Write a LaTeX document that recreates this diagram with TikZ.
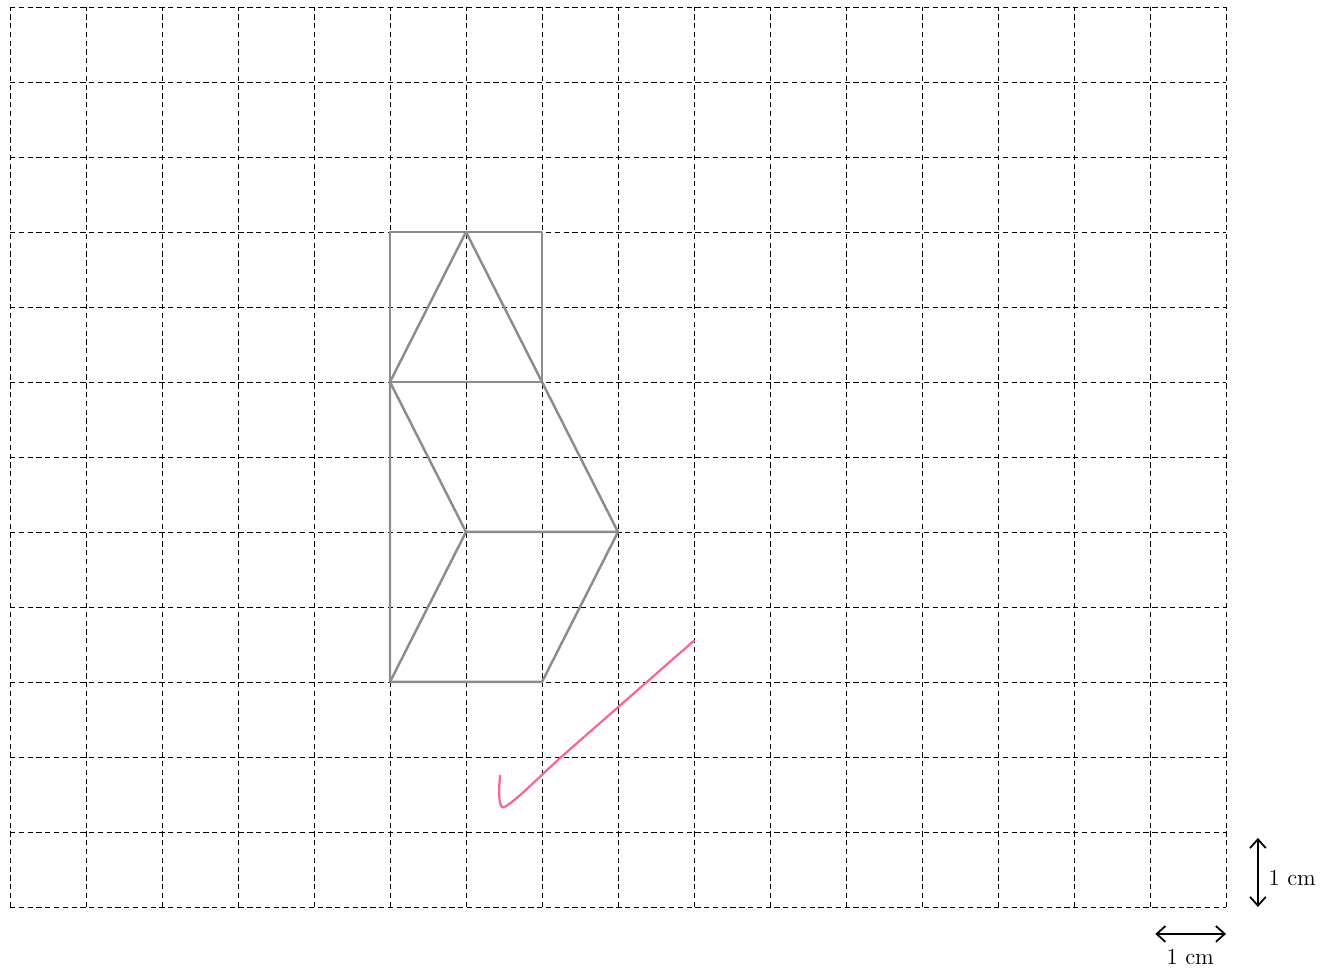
\documentclass[tikz,border=0pt]{standalone}
\usepackage{tikz}
\usetikzlibrary{arrows.meta}

\begin{document}
\begin{tikzpicture}[x=1.52cm, y=1.5cm,
    gridline/.style={line width=0.5pt, dash pattern=on 3pt off 2pt, xstep=1.52cm, ystep=1.5cm},
    edge/.style={draw=black!45, line width=1.4pt, line join=round},
    tick/.style={line width=1pt, {Straight Barb[length=5pt,width=9pt]}-{Straight Barb[length=5pt,width=9pt]}},
    every node/.style={font=\fontsize{13}{15}\selectfont}]
  \useasboundingbox (-0.1316, -0.853) rectangle (17.382, 12.093);
  \draw [gridline] (0, 0) grid (16, 12);
  % vertices of the net
  \coordinate (a) at (5, 9);
  \coordinate (b) at (6, 9);
  \coordinate (c) at (7, 9);
  \coordinate (d) at (5, 7);
  \coordinate (e) at (7, 7);
  \coordinate (f) at (6, 5);
  \coordinate (g) at (8, 5);
  \coordinate (h) at (5, 3);
  \coordinate (i) at (7, 3);
  \draw [edge] (d) -- (a) -- (c) -- (e) -- (d);
  \draw [edge] (d) -- (b) -- (e);
  \draw [edge] (d) -- (f) -- (g) -- (e);
  \draw [edge] (d) -- (h) -- (i) -- (g);
  \draw [edge] (f) -- (h);
  % mark
  \coordinate (m1) at (6.45, 1.75);
  \coordinate (m2) at (6.50, 1.33);
  \coordinate (m3) at (9.0, 3.55);
  \draw [draw=magenta!70!red!60, line width=1.3pt, line cap=round]
    (m1) .. controls (6.42, 1.50) and (6.44, 1.30) .. (m2)
    .. controls (6.65, 1.40) and (7.0, 1.78) .. (7.4, 2.13) -- (m3);
  % scale
  \coordinate (v1) at (16.42, 0);
  \coordinate (v2) at (16.42, 0.92);
  \coordinate (h1) at (15.07, -0.36);
  \coordinate (h2) at (16.0, -0.36);
  \draw [tick] (v1) -- (v2);
  \draw [tick] (h1) -- (h2);
  \node [right] (vl) at (16.48, 0.38) {1 cm};
  \node [below] (hl) at (15.53, -0.48) {1 cm};
\end{tikzpicture}
\end{document}
